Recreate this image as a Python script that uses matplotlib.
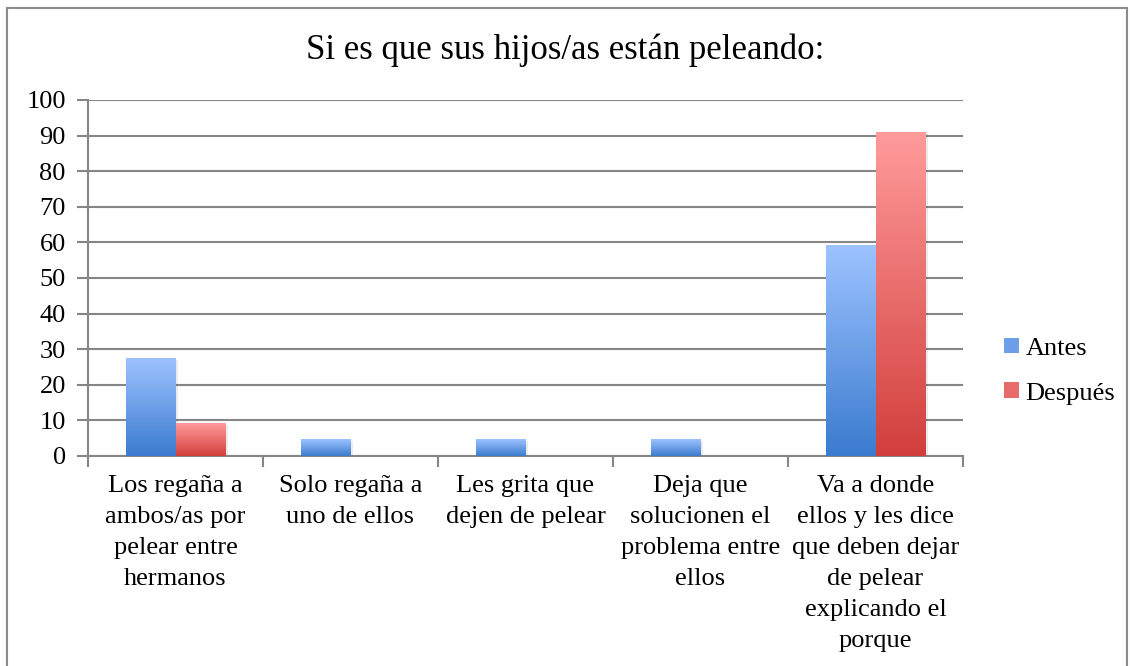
import numpy as np
import matplotlib
matplotlib.use('Agg')
import matplotlib.pyplot as plt
from matplotlib.colors import LinearSegmentedColormap
from matplotlib.patches import Patch, Rectangle

# data
categories = ['Los regaña a\nambos/as por\npelear entre\nhermanos',
              'Solo regaña a\nuno de ellos',
              'Les grita que\ndejen de pelear',
              'Deja que\nsolucionen el\nproblema entre\nellos',
              'Va a donde\nellos y les dice\nque deben dejar\nde pelear\nexplicando el\nporque']
antes = [27.3, 4.5, 4.5, 4.5, 59.1]
despues = [9.1, 0, 0, 0, 90.9]
series_names = ['Antes', 'Después']

plt.rcParams['font.family'] = ['Liberation Serif', 'DejaVu Serif']

fig = plt.figure(figsize=(11.3, 6.66), dpi=100)
ax = fig.add_axes([88 / 1130, 1 - 456 / 666, 875 / 1130, 356 / 666])

# outer frame
fig.patches.append(Rectangle((7 / 1130, -0.1), 1120 / 1130, 1.1 - 8 / 666,
                             transform=fig.transFigure, fill=False,
                             edgecolor='#8c8c8c', linewidth=1.5))

blue_cmap = LinearSegmentedColormap.from_list('b', ['#3b7bcf', '#9dc3ff'])
red_cmap = LinearSegmentedColormap.from_list('r', ['#d13f3c', '#ff9b9b'])

x = np.arange(len(categories))
width = 0.2857
grad = np.linspace(0, 1, 256).reshape(-1, 1)

bars_a = ax.bar(x - width / 2, antes, width, color='none', edgecolor='none')
bars_d = ax.bar(x + width / 2, despues, width, color='none', edgecolor='none')

for bars, cm in [(bars_a, blue_cmap), (bars_d, red_cmap)]:
    for b in bars:
        h = b.get_height()
        if h <= 0:
            continue
        x0 = b.get_x()
        w = b.get_width()
        # soft shadow
        ax.add_patch(Rectangle((x0 + 0.012, -0.3), w, h, facecolor='#000000',
                               alpha=0.08, edgecolor='none', zorder=2))
        ax.imshow(grad, extent=[x0, x0 + w, 0, h], origin='lower', cmap=cm,
                  aspect='auto', zorder=3, interpolation='bilinear')

ax.set_xlim(-0.5, len(categories) - 0.5)
ax.set_ylim(0, 100)
ax.set_yticks(range(0, 101, 10))
ax.set_xticks(np.arange(-0.5, len(categories), 1))
ax.set_xticklabels([])
ax.set_xticks(x, minor=True)
ax.set_xticklabels(categories, minor=True)
ax.tick_params(axis='x', which='minor', length=0, pad=14, labelsize=19)
ax.tick_params(axis='x', which='major', length=8, width=1.5, color='#868686', direction='out')
ax.tick_params(axis='y', length=8, width=1.5, color='#868686', labelsize=19, pad=8)
for lbl in ax.get_xticklabels(minor=True):
    lbl.set_linespacing(1.52)

ax.grid(axis='y', color='#868686', linewidth=1.5)
ax.set_axisbelow(True)
for s in ['top', 'right']:
    ax.spines[s].set_visible(False)
for s in ['left', 'bottom']:
    ax.spines[s].set_color('#868686')
    ax.spines[s].set_linewidth(1.5)

fig.text(0.5, 1 - 50 / 666, 'Si es que sus hijos/as están peleando:',
         ha='center', va='center', fontsize=25)

handles = [Patch(facecolor='#6d9fe8', edgecolor='none'),
           Patch(facecolor='#e86b69', edgecolor='none')]
fig.legend(handles, series_names, loc='center left',
           bbox_to_anchor=(991 / 1130, 1 - 371 / 666), frameon=False,
           fontsize=19, handlelength=0.55, handleheight=0.55,
           handletextpad=0.25, labelspacing=0.85, borderpad=0)

fig.savefig('out.png', dpi=100)
